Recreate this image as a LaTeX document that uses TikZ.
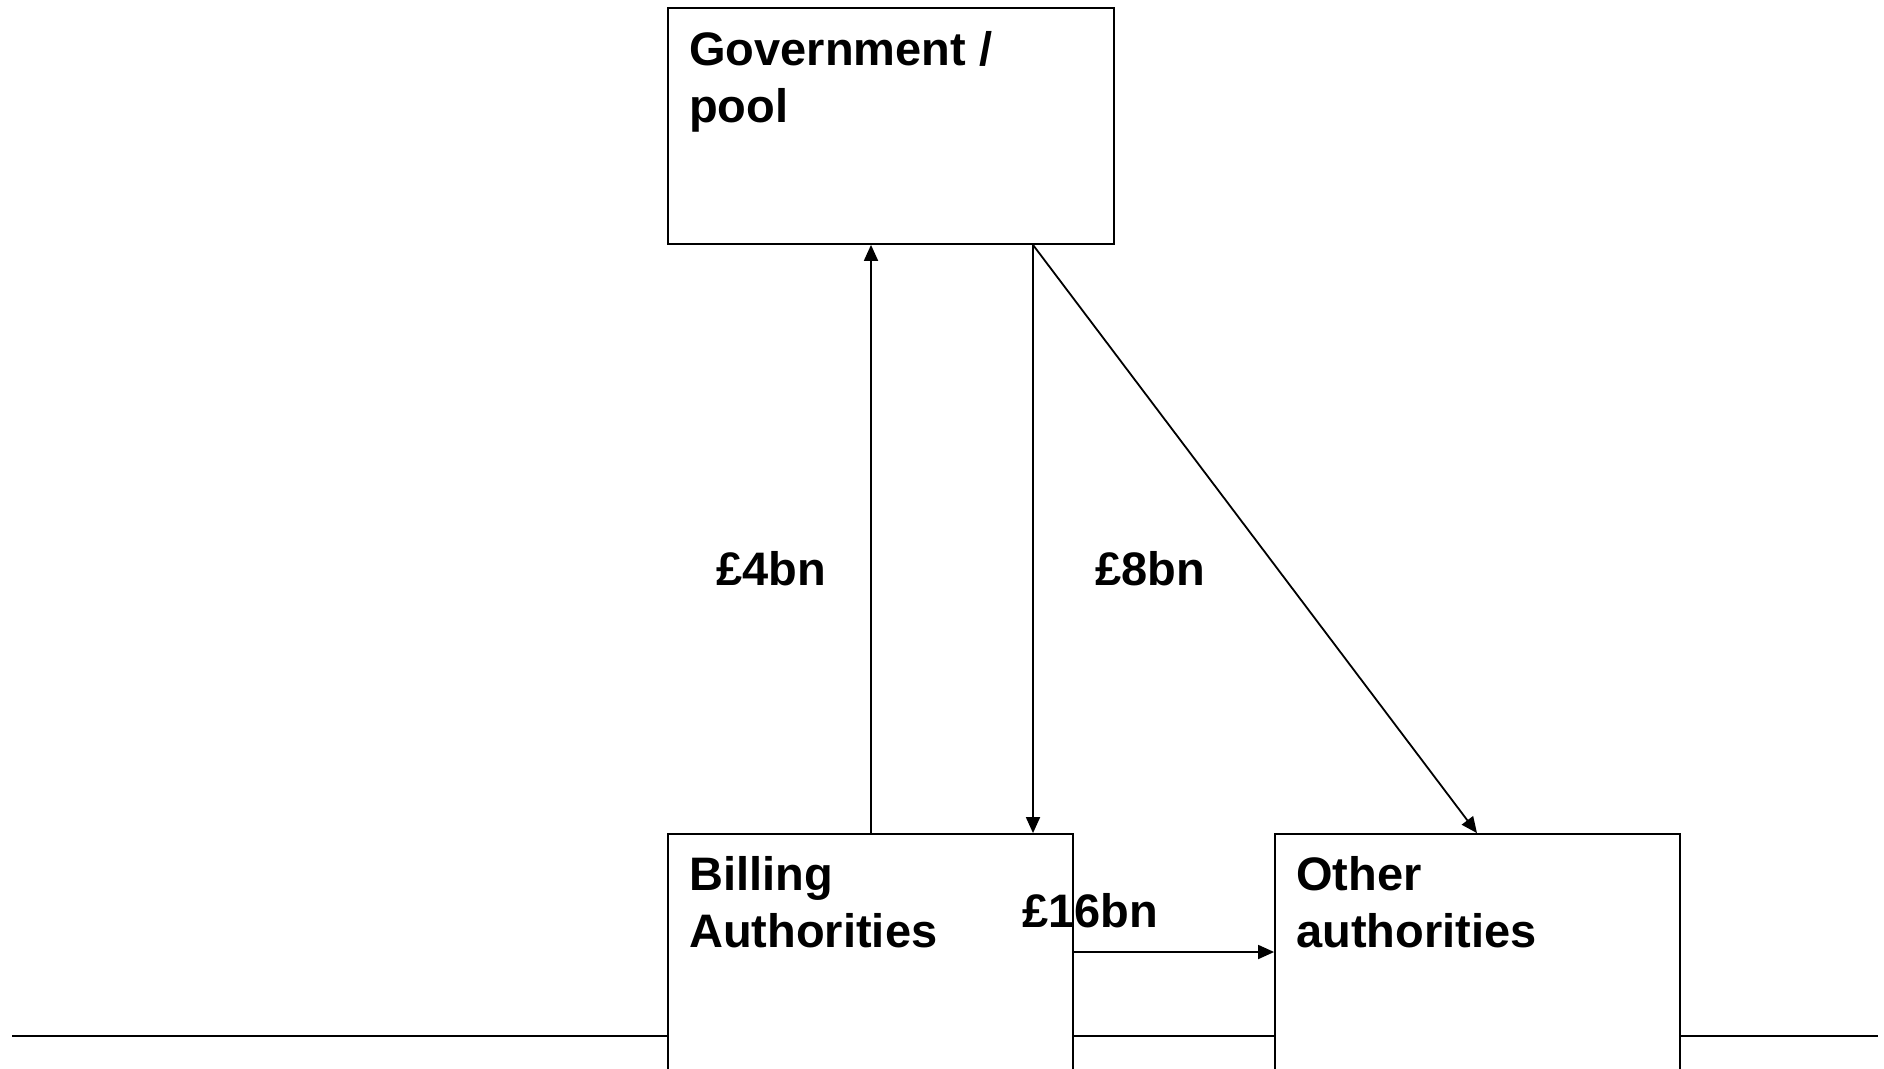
\documentclass[tikz,border=0pt]{standalone}
\usepackage{fontspec}
\setmainfont{Liberation Sans}
\usetikzlibrary{arrows.meta}
\begin{document}
\begin{tikzpicture}[x=1pt,y=-1pt,
  box/.style={draw=black, fill=white, line width=1.8pt, inner sep=0pt, rectangle},
  lbl/.style={inner sep=0pt, align=left, font=\fontsize{47}{57}\selectfont\bfseries, anchor=base west},
  arr/.style={draw=black, line width=1.8pt, -{Triangle[length=16pt,width=14pt]}},
  plain/.style={draw=black, line width=1.8pt}]
\clip (0,0) rectangle (1884,1068);
\fill[white] (0,0) rectangle (1884,1068);
% base line
\coordinate (lineL) at (12,1036);
\coordinate (lineR) at (1878,1036);
\draw[plain] (lineL) -- (lineR);
% boxes
\node[box, minimum width=446pt, minimum height=236pt] (gov) at (891,126) {};
\node[box, minimum width=405pt, minimum height=250pt] (bill) at (870.5,959) {};
\node[box, minimum width=405pt, minimum height=250pt] (oth) at (1477.5,959) {};
% texts (anchor = baseline of the last line)
\node[lbl] (govt) at (689,122) {Government /\\pool};
\node[lbl] (billt) at (689,947) {Billing\\Authorities};
\node[lbl] (otht) at (1296,947) {Other\\authorities};
% connector x positions
\coordinate (upx) at (871,0);
\coordinate (dnx) at (1033,0);
\coordinate (dgx) at (1477,0);
\coordinate (hy) at (0,952);
\draw[arr] (bill.north -| upx) -- (gov.south -| upx);
\draw[arr] (gov.south -| dnx) -- (bill.north -| dnx);
\draw[arr] (gov.south -| dnx) -- (oth.north -| dgx);
\draw[arr] (bill.east |- hy) -- (oth.west |- hy);
% amounts
\node[lbl] (l4) at (716,585) {£4bn};
\node[lbl] (l8) at (1095,585) {£8bn};
\node[lbl] (l16) at (1022,927) {£16bn};
\end{tikzpicture}
\end{document}
